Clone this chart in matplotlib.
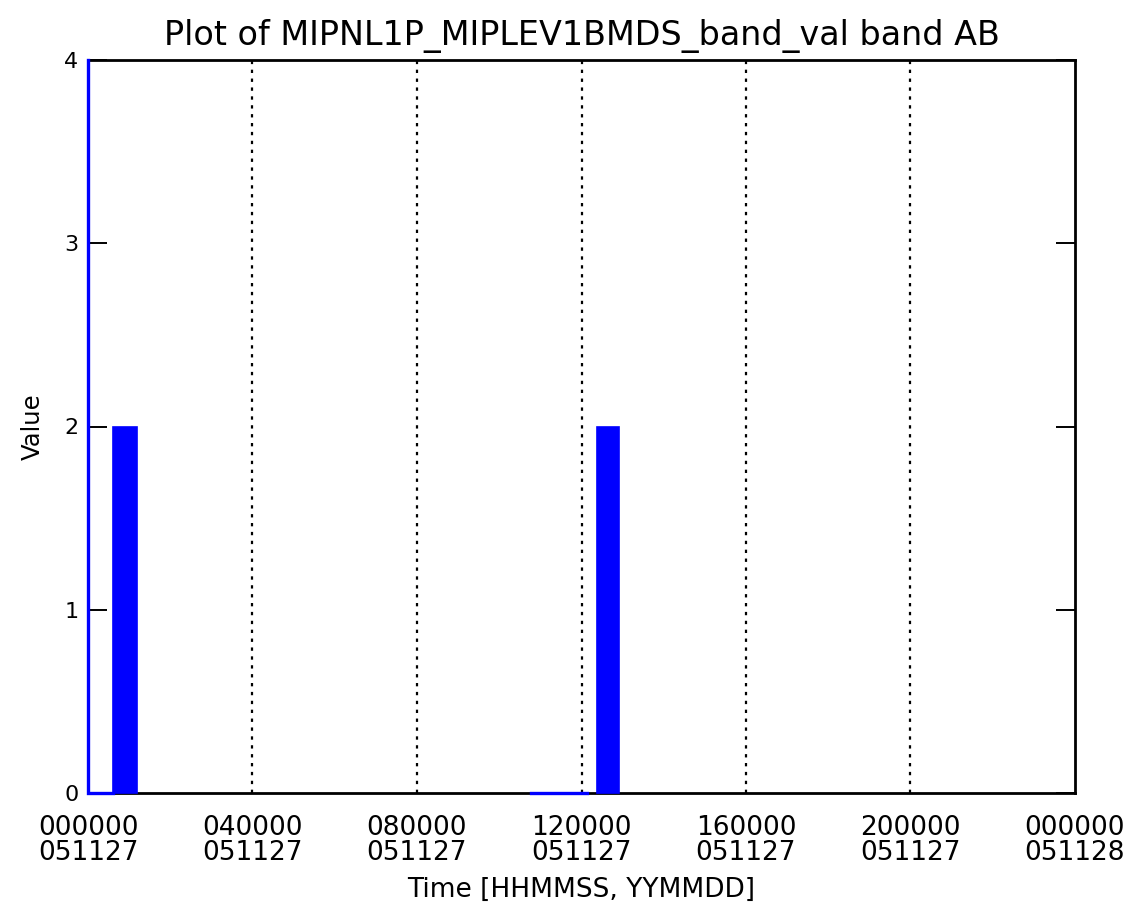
import numpy as np
import matplotlib
matplotlib.use("Agg")
import matplotlib.pyplot as plt

# Data (time in seconds from 2005-11-27 00:00:00)
line_times = [0, 0, 2200, np.nan, 38800, 43700]
line_values = [4, 0, 0, np.nan, 0, 0]
block_starts = [2200, 44600]
block_ends = [4300, 46450]
block_values = [2, 2]
xtick_secs = [0, 14400, 28800, 43200, 57600, 72000, 86400]
xtick_labels = ["000000\n051127", "040000\n051127", "080000\n051127", "120000\n051127",
                "160000\n051127", "200000\n051127", "000000\n051128"]
ytick_vals = [0, 1, 2, 3, 4]

fig = plt.figure(figsize=(11.32, 9.07), dpi=100)
ax = fig.add_axes([88/1132, 1-793/907, (1075-88)/1132, (793-60)/907])

blue = "#0000ff"
ax.plot(line_times, line_values, color=blue, lw=2.4, solid_joinstyle="miter",
        zorder=4, clip_on=False)
widths = [e - s for s, e in zip(block_starts, block_ends)]
ax.bar(block_starts, block_values, width=widths, align="edge", color=blue,
       edgecolor=blue, linewidth=1.2, zorder=4, clip_on=False)

ax.set_xlim(0, 86400)
ax.set_ylim(0, 4)

for xv in xtick_secs[1:-1]:
    ax.axvline(xv, color="black", ls=(0, (1.5, 2.5)), lw=1.6, zorder=2)

ax.set_xticks(xtick_secs)
ax.set_xticklabels(xtick_labels, fontsize=19, linespacing=0.95)
ax.tick_params(axis="x", length=0, pad=16)
ax.set_yticks(ytick_vals)
ax.set_yticklabels([str(v) for v in ytick_vals], fontsize=16)
ax.tick_params(axis="y", direction="in", length=14, width=1.4, left=True, right=True, pad=7)

for s in ax.spines.values():
    s.set_linewidth(2)

ax.set_title("Plot of MIPNL1P_MIPLEV1BMDS_band_val band AB", fontsize=24, pad=11)
ax.set_xlabel("Time [HHMMSS, YYMMDD]", fontsize=19, labelpad=8)
ax.set_ylabel("Value", fontsize=17.5, labelpad=14)

fig.savefig("out.png", dpi=100)
